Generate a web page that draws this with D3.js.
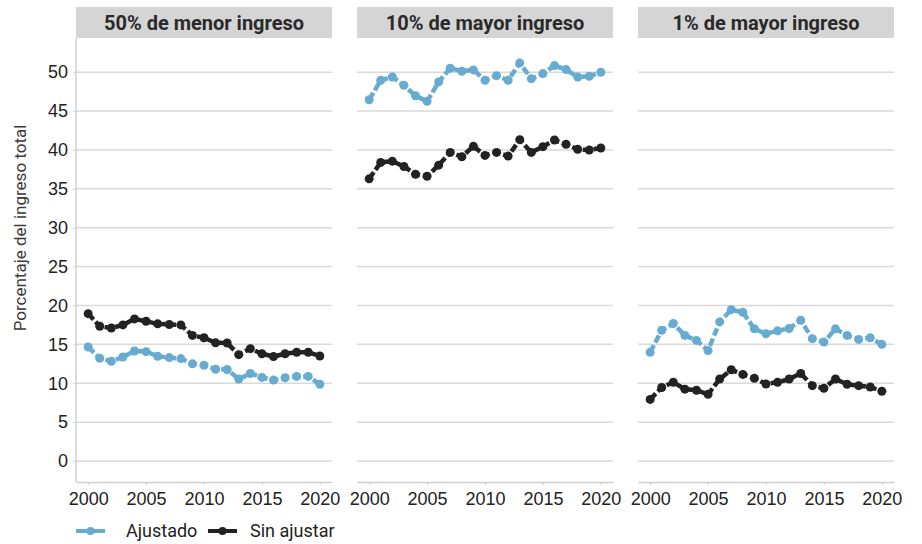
<!DOCTYPE html>
<html>
<head>
<meta charset="utf-8">
<script src="https://cdn.jsdelivr.net/npm/d3@7"></script>
<style>
  body { margin: 0; background: #fff; }
  svg { font-family: Roboto, "Open Sans", sans-serif; }
</style>
</head>
<body>
<svg id="chart"></svg>
<script>
// Data
const years = d3.range(2000, 2021);
const panels = ['50% de menor ingreso', '10% de mayor ingreso', '1% de mayor ingreso'];
const seriesNames = ['Ajustado', 'Sin ajustar'];
const yTicks = [0, 5, 10, 15, 20, 25, 30, 35, 40, 45, 50];
const xTicks = [2000, 2005, 2010, 2015, 2020];

const bottom50Adjusted = [14.66, 13.22, 12.83, 13.38, 14.15, 14.06, 13.47, 13.3, 13.17, 12.5, 12.32,
  11.8, 11.77, 10.54, 11.26, 10.75, 10.41, 10.71, 10.88, 10.88, 9.86];
const bottom50Unadjusted = [18.95, 17.33, 17.1, 17.5, 18.27, 17.97, 17.64, 17.55, 17.5, 16.15, 15.85,
  15.2, 15.17, 13.68, 14.45, 13.8, 13.43, 13.8, 13.98, 13.98, 13.5];
const top10Adjusted = [46.46, 48.96, 49.39, 48.32, 46.97, 46.25, 48.75, 50.52, 50.13, 50.3, 48.96,
  49.56, 48.96, 51.2, 49.17, 49.82, 50.85, 50.34, 49.39, 49.48, 50.0];
const top10Unadjusted = [36.29, 38.4, 38.56, 37.88, 36.88, 36.62, 38.05, 39.69, 39.13, 40.47, 39.3,
  39.69, 39.21, 41.33, 39.69, 40.43, 41.28, 40.72, 40.08, 39.99, 40.25];
const top1Adjusted = [13.98, 16.82, 17.68, 16.15, 15.51, 14.2, 17.89, 19.46, 19.12, 17.0, 16.36,
  16.74, 17.04, 18.1, 15.73, 15.3, 17.0, 16.15, 15.64, 15.85, 15.0];
const top1Unadjusted = [7.92, 9.45, 10.13, 9.24, 9.1, 8.58, 10.54, 11.73, 11.14, 10.63, 9.9,
  10.12, 10.54, 11.26, 9.69, 9.36, 10.54, 9.87, 9.69, 9.52, 8.97];

const panelSeries = [
  [bottom50Adjusted, bottom50Unadjusted],
  [top10Adjusted, top10Unadjusted],
  [top1Adjusted, top1Unadjusted]
];
const colors = ['#67acd0', '#222222'];

// Layout
const width = 922, height = 544;
const margin = {top: 38, left: 76, bottom: 62};
const panelWidth = 256, panelGap = 25, stripHeight = 31;
const plotBottom = height - margin.bottom;

const svg = d3.select('#chart').attr('width', width).attr('height', height);

const xScale = d3.scaleLinear().domain([1998.95, 2021.05]).range([0, panelWidth]);
const yScale = d3.scaleLinear().domain([-2.7, 54.4]).range([plotBottom, margin.top]);

const line = d3.line()
    .x(d => xScale(d.year))
    .y(d => yScale(d.value));

panels.forEach((title, i) => {
  const g = svg.append('g')
      .attr('transform', `translate(${margin.left + i * (panelWidth + panelGap)},0)`);

  // strip header
  g.append('rect')
      .attr('x', 0).attr('y', margin.top - stripHeight)
      .attr('width', panelWidth).attr('height', stripHeight)
      .attr('fill', '#d5d5d5');
  g.append('text')
      .attr('x', panelWidth / 2).attr('y', margin.top - stripHeight / 2)
      .attr('dy', '0.36em')
      .attr('text-anchor', 'middle')
      .style('font-size', '20px')
      .style('font-weight', 'bold')
      .attr('fill', '#2a2a2a')
      .text(title);

  // gridlines
  g.selectAll('.grid')
      .data(yTicks)
    .join('line')
      .attr('class', 'grid')
      .attr('x1', 0).attr('x2', panelWidth)
      .attr('y1', d => yScale(d)).attr('y2', d => yScale(d))
      .attr('stroke', '#d9d9d9')
      .attr('stroke-width', 1.5);

  // x axis
  const xAxis = d3.axisBottom(xScale)
      .tickValues(xTicks)
      .tickFormat(d3.format('d'))
      .tickSize(3)
      .tickSizeOuter(0);
  const xAxisG = g.append('g')
      .attr('transform', `translate(0,${plotBottom})`)
      .call(xAxis);
  xAxisG.select('.domain').attr('stroke', '#d0d0d0').attr('stroke-width', 1.5);
  xAxisG.selectAll('.tick line').attr('stroke', '#d0d0d0');
  xAxisG.selectAll('.tick text')
      .attr('fill', '#222')
      .attr('dy', '0.95em')
      .style('font-size', '18px');

  // y axis on first panel
  if (i === 0) {
    const yAxis = d3.axisLeft(yScale)
        .tickValues(yTicks)
        .tickSize(3)
        .tickSizeOuter(0);
    const yAxisG = g.append('g').call(yAxis);
    yAxisG.select('.domain')
        .attr('d', `M0,${margin.top}V${plotBottom}`)
        .attr('stroke', '#d0d0d0').attr('stroke-width', 1.5);
    yAxisG.selectAll('.tick line').attr('stroke', '#d0d0d0');
    yAxisG.selectAll('.tick text')
        .attr('fill', '#222')
        .attr('x', -8)
        .style('font-size', '18px');
  }

  // series
  panelSeries[i].forEach((values, s) => {
    const data = values.map((v, k) => ({year: years[k], value: v}));
    g.append('path')
        .datum(data)
        .attr('fill', 'none')
        .attr('stroke', colors[s])
        .attr('stroke-width', 4.5)
        .attr('stroke-dasharray', '8,3')
        .attr('d', line);
    g.selectAll(`.dot-${s}`)
        .data(data)
      .join('circle')
        .attr('class', `dot-${s}`)
        .attr('cx', d => xScale(d.year))
        .attr('cy', d => yScale(d.value))
        .attr('r', 4.5)
        .attr('fill', colors[s]);
  });
});

// y axis title
svg.append('text')
    .attr('transform', `translate(26,${(margin.top + plotBottom) / 2 - 32}) rotate(-90)`)
    .attr('text-anchor', 'middle')
    .style('font-size', '17px')
    .attr('fill', '#3a3a3a')
    .text('Porcentaje del ingreso total');

// legend
const legendItems = [
  {name: seriesNames[0], color: colors[0], x: 76, textX: 126},
  {name: seriesNames[1], color: colors[1], x: 208, textX: 250}
];
const legendY = 531;
legendItems.forEach(item => {
  svg.append('line')
      .attr('x1', item.x).attr('x2', item.x + 29)
      .attr('y1', legendY).attr('y2', legendY)
      .attr('stroke', item.color)
      .attr('stroke-width', 4)
      .attr('stroke-dasharray', '11,7,11');
  svg.append('circle')
      .attr('cx', item.x + 14.5).attr('cy', legendY)
      .attr('r', 4)
      .attr('fill', item.color);
  svg.append('text')
      .attr('x', item.textX).attr('y', legendY)
      .attr('dy', '0.35em')
      .style('font-size', '18px')
      .attr('fill', '#222')
      .text(item.name);
});
</script>
</body>
</html>
